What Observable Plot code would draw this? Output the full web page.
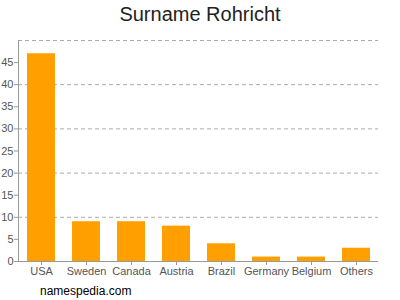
<!DOCTYPE html>
<html>
<head>
<meta charset="utf-8">
<script src="https://cdn.jsdelivr.net/npm/d3@7"></script>
<script src="https://cdn.jsdelivr.net/npm/@observablehq/plot@0.6"></script>
<style>
  body { margin: 0; background: #fff; font-family: "Liberation Sans", Arial, sans-serif; }
  #wrap { width: 400px; height: 300px; position: relative; overflow: hidden; }
  #title { height: 28px; line-height: 28px; text-align: center; font-size: 20px; color: #222; }
  #caption { padding-left: 40px; padding-top: 6px; font-size: 12px; line-height: 14px; color: #000; }
  svg { display: block; }
</style>
</head>
<body>
<div id="wrap">
  <div id="title">Surname Rohricht</div>
  <div id="chart"></div>
  <div id="caption">namespedia.com</div>
</div>
<script>
const countries = ["USA", "Sweden", "Canada", "Austria", "Brazil", "Germany", "Belgium", "Others"];
const counts = [47, 9, 9, 8, 4, 1, 1, 3];
const yTicks = [0, 5, 10, 15, 20, 25, 30, 35, 40, 45];
const gridValues = [10, 20, 30, 40, 50];

const data = countries.map((c, i) => ({country: c, value: counts[i]}));

const chart = Plot.plot({
  width: 400,
  height: 250,
  marginLeft: 18,
  marginRight: 22,
  marginTop: 12,
  marginBottom: 17,
  style: { fontFamily: "Liberation Sans, Arial, sans-serif", fontSize: "11px", color: "#555", background: "#fff" },
  x: { domain: countries, paddingInner: 0.38, paddingOuter: 0.19, label: null },
  y: { domain: [0, 50], label: null },
  marks: [
    Plot.gridY(gridValues, { stroke: "#aaa", strokeOpacity: 1, strokeDasharray: "4,3" }),
    Plot.barY(data, { x: "country", y: "value", fill: "#ffa000" }),
    Plot.ruleY([0], { stroke: "#999" }),
    Plot.frame({ anchor: "left", stroke: "#999" }),
    Plot.axisY(yTicks, { tickSize: 4, tickPadding: 1, stroke: "#999", fill: "#555", fontSize: 11, label: null }),
    Plot.axisX({ tickSize: 4, tickPadding: 2, stroke: "#999", fill: "#555", fontSize: 11, label: null })
  ]
});
document.getElementById("chart").appendChild(chart);
</script>
</body>
</html>
